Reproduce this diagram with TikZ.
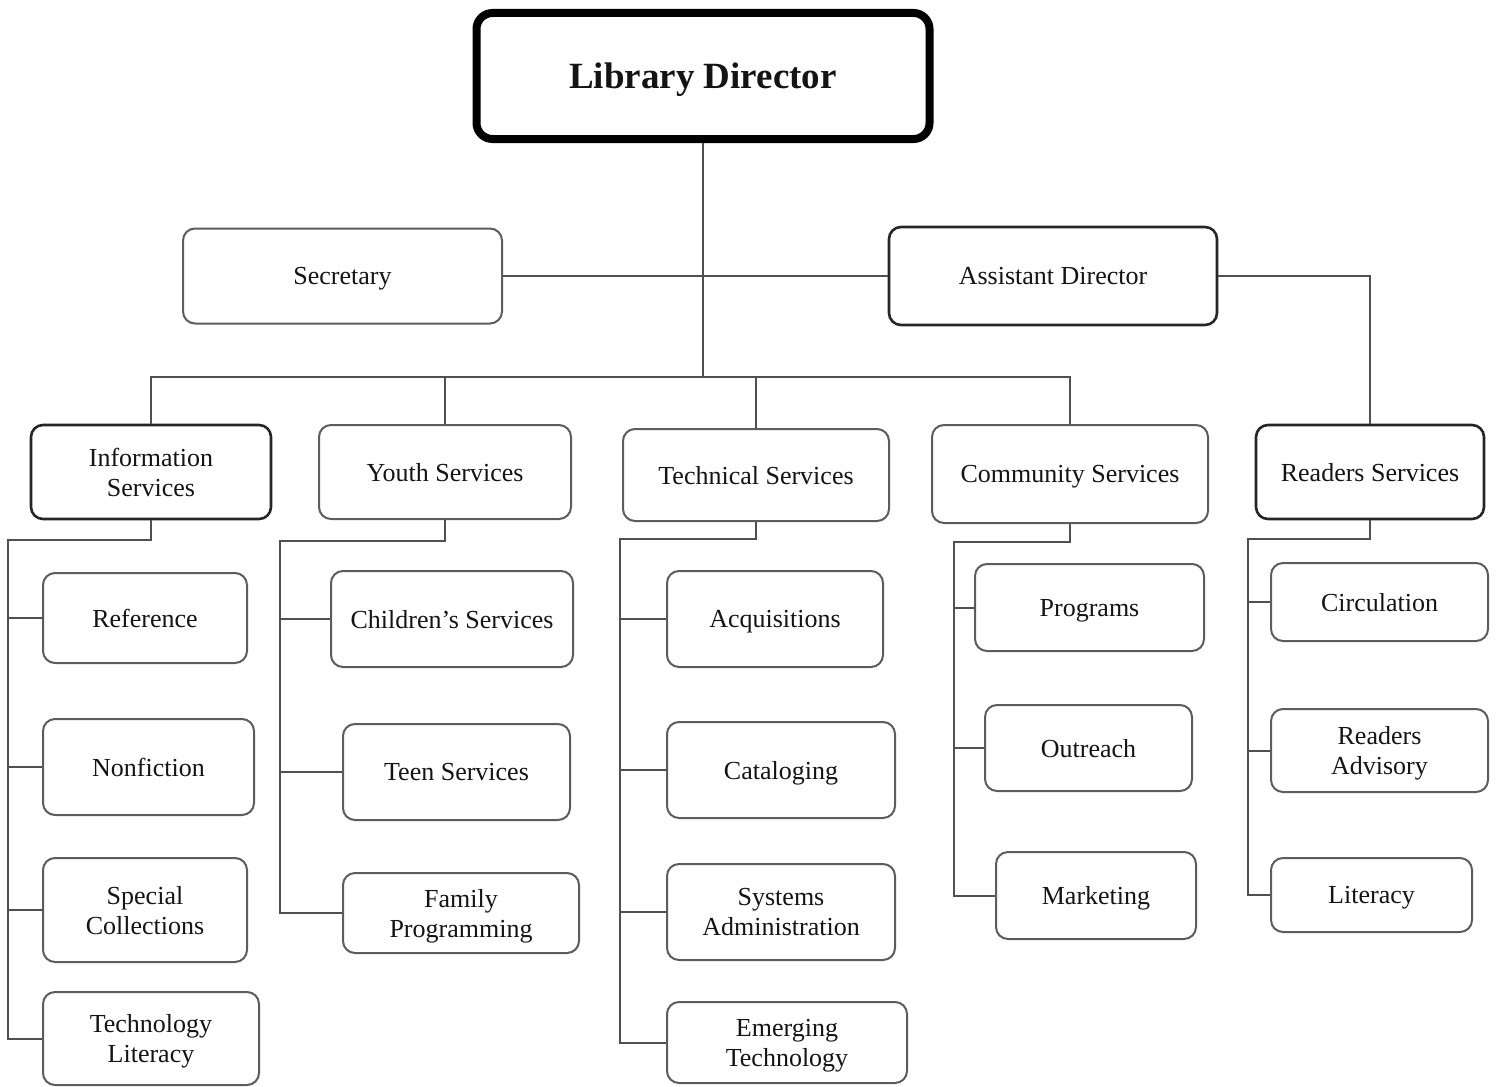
\documentclass[tikz,border=0pt]{standalone}
\usepackage{fontspec}
\setmainfont{Liberation Serif}
\definecolor{wire}{HTML}{505050}
\definecolor{softedge}{HTML}{5C5C5C}
\definecolor{hardedge}{HTML}{262626}
\definecolor{ink}{HTML}{141414}
\tikzset{
  unit/.style={rounded corners=6pt, align=center, inner sep=0pt, text depth=0pt,
    font=\fontsize{13}{15}\selectfont, text=ink, fill=white},
  soft/.style={unit, draw=softedge, line width=1pt},
  hard/.style={unit, draw=hardedge, line width=1.3pt},
  head/.style={unit, draw=black, line width=4pt, rounded corners=8pt,
    font=\fontsize{18.5}{22}\selectfont\bfseries},
  wiring/.style={draw=wire, line width=1pt}
}
\begin{document}
\begin{tikzpicture}[x=0.5pt, y=-0.5pt]
\useasboundingbox (0,0) rectangle (1497,1086);
\clip (0,0) rectangle (1497,1086);

% top level
\node[head, minimum width=226.5pt, minimum height=63pt] (dir) at (703,76) {Library Director};
\node[soft, minimum width=159.5pt, minimum height=47.5pt] (sec) at (342.5,276) {Secretary};
\node[hard, minimum width=164pt, minimum height=49pt] (asst) at (1053,276) {Assistant Director};

% departments
\node[hard, minimum width=120pt, minimum height=47pt] (info) at (151,472) {Information\\Services};
\node[soft, minimum width=126pt, minimum height=47pt] (youth) at (445,472) {Youth Services};
\node[soft, minimum width=133pt, minimum height=46pt] (tech) at (756,475) {Technical Services};
\node[soft, minimum width=138pt, minimum height=49pt] (comm) at (1070,474) {Community Services};
\node[hard, minimum width=114pt, minimum height=47pt] (read) at (1370,472) {Readers Services};

% information services units
\node[soft, minimum width=102pt, minimum height=45pt] (ref) at (145,618) {Reference};
\node[soft, minimum width=105.5pt, minimum height=48pt] (nonf) at (148.5,767) {Nonfiction};
\node[soft, minimum width=102pt, minimum height=52pt] (spec) at (145,910) {Special\\Collections};
\node[soft, minimum width=108pt, minimum height=46.5pt] (tlit) at (151,1038.5) {Technology\\Literacy};

% youth services units
\node[soft, minimum width=121pt, minimum height=48pt] (child) at (452,619) {Children's Services};
\node[soft, minimum width=113.5pt, minimum height=48pt] (teen) at (456.5,772) {Teen Services};
\node[soft, minimum width=118pt, minimum height=40pt] (fam) at (461,913) {Family\\Programming};

% technical services units
\node[soft, minimum width=108pt, minimum height=48pt] (acq) at (775,619) {Acquisitions};
\node[soft, minimum width=114pt, minimum height=48pt] (cat) at (781,770) {Cataloging};
\node[soft, minimum width=114pt, minimum height=48pt] (sys) at (781,912) {Systems\\Administration};
\node[soft, minimum width=120pt, minimum height=40.5pt] (emer) at (787,1042.5) {Emerging\\Technology};

% community services units
\node[soft, minimum width=114.5pt, minimum height=43.5pt] (prog) at (1089.5,607.5) {Programs};
\node[soft, minimum width=103.5pt, minimum height=43pt] (outr) at (1088.5,748) {Outreach};
\node[soft, minimum width=100pt, minimum height=43.5pt] (mark) at (1096,895.5) {Marketing};

% readers services units
\node[soft, minimum width=108.5pt, minimum height=39pt] (circ) at (1379.5,602) {Circulation};
\node[soft, minimum width=108.5pt, minimum height=41.5pt] (radv) at (1379.5,750.5) {Readers\\Advisory};
\node[soft, minimum width=100.5pt, minimum height=37pt] (lit) at (1371.5,895) {Literacy};

% junction points
\coordinate (hub) at (dir.south |- 0,377);
\coordinate (ibus) at (8,540);
\coordinate (ybus) at (280,541);
\coordinate (tbus) at (620,539);
\coordinate (cbus) at (954,542);
\coordinate (rbus) at (1248,539);

% director and staff
\draw[wiring] (dir.south) -- (hub);
\draw[wiring] (sec.east) -- (asst.west);
\draw[wiring] (asst.east) -| (read.north);
\draw[wiring] (info.north) |- (comm.north |- hub) -- (comm.north);
\draw[wiring] (youth.north) -- (youth.north |- hub);
\draw[wiring] (tech.north) -- (tech.north |- hub);

% information services
\draw[wiring] (info.south) |- (ibus) |- (tlit.west);
\draw[wiring] (ibus |- ref.west) -- (ref.west);
\draw[wiring] (ibus |- nonf.west) -- (nonf.west);
\draw[wiring] (ibus |- spec.west) -- (spec.west);

% youth services
\draw[wiring] (youth.south) |- (ybus) |- (fam.west);
\draw[wiring] (ybus |- child.west) -- (child.west);
\draw[wiring] (ybus |- teen.west) -- (teen.west);

% technical services
\draw[wiring] (tech.south) |- (tbus) |- (emer.west);
\draw[wiring] (tbus |- acq.west) -- (acq.west);
\draw[wiring] (tbus |- cat.west) -- (cat.west);
\draw[wiring] (tbus |- sys.west) -- (sys.west);

% community services
\draw[wiring] (comm.south) |- (cbus) |- (mark.west);
\draw[wiring] (cbus |- prog.west) -- (prog.west);
\draw[wiring] (cbus |- outr.west) -- (outr.west);

% readers services
\draw[wiring] (read.south) |- (rbus) |- (lit.west);
\draw[wiring] (rbus |- circ.west) -- (circ.west);
\draw[wiring] (rbus |- radv.west) -- (radv.west);
\end{tikzpicture}
\end{document}
